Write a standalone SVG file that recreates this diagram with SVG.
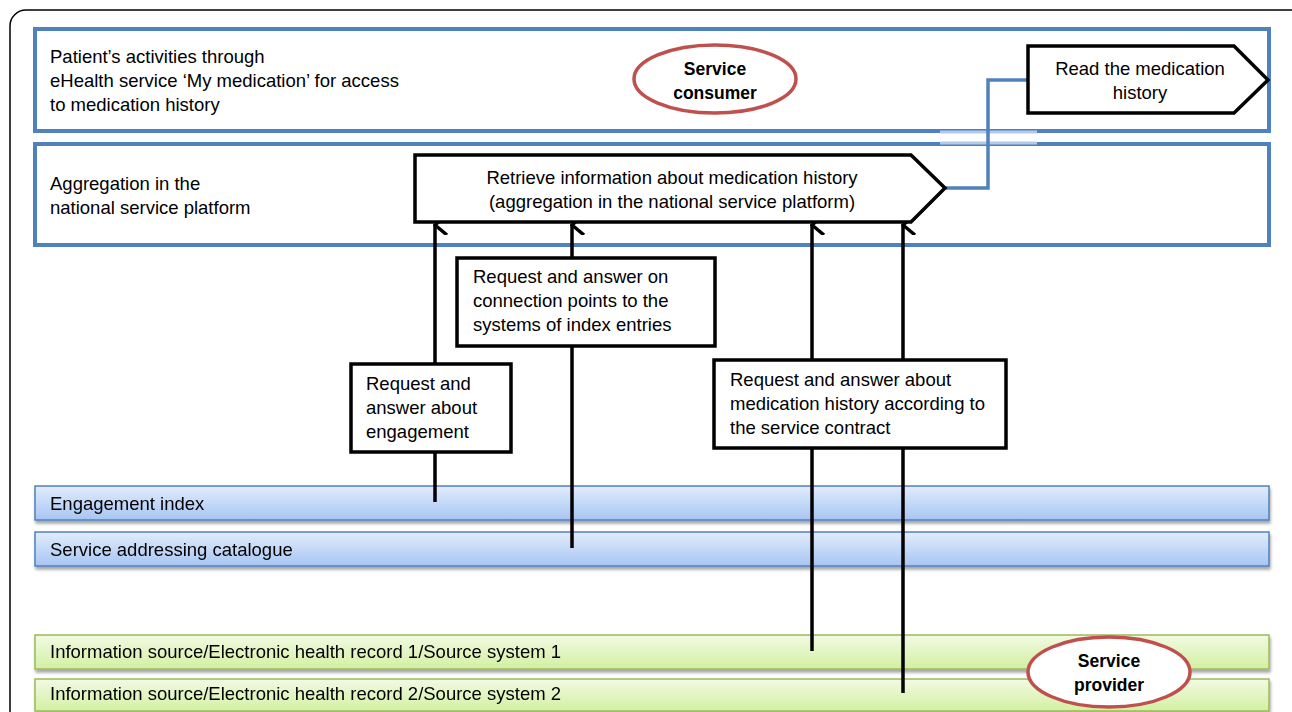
<svg xmlns="http://www.w3.org/2000/svg" width="1292" height="712" viewBox="0 0 1292 712">
<style>
.t{font-family:"Liberation Sans",Arial,sans-serif;font-size:18.5px;fill:#000}
.b{font-family:"Liberation Sans",Arial,sans-serif;font-size:17.5px;font-weight:bold;fill:#000}
.lane{fill:#fff;stroke:#4f81bd;stroke-width:4}
.box{fill:#fff;stroke:#000;stroke-width:3.5;stroke-linejoin:miter}
.bbar{fill:url(#gb);stroke:#4f81bd;stroke-width:1.5}
.gbar{fill:url(#gg);stroke:#9bbb59;stroke-width:1.5}
.ell{fill:#fff;stroke:#c0504d;stroke-width:3.5}
.arr{stroke:#000;stroke-width:3.5;fill:none}
</style>
<defs>
<linearGradient id="gb" x1="0" y1="0" x2="0" y2="1">
<stop offset="0" stop-color="#e2ecfc"/><stop offset="1" stop-color="#a7c5f3"/>
</linearGradient>
<linearGradient id="gg" x1="0" y1="0" x2="0" y2="1">
<stop offset="0" stop-color="#f2fae3"/><stop offset="1" stop-color="#d3f0a2"/>
</linearGradient>
<filter id="sh" x="-5%" y="-30%" width="110%" height="180%">
<feGaussianBlur in="SourceAlpha" stdDeviation="1.5"/>
<feOffset dx="1" dy="3" result="o"/>
<feComponentTransfer><feFuncA type="linear" slope="0.35"/></feComponentTransfer>
<feMerge><feMergeNode/><feMergeNode in="SourceGraphic"/></feMerge>
</filter>
<marker id="ah" viewBox="0 0 20 16" refX="10" refY="2" markerWidth="20" markerHeight="16" markerUnits="userSpaceOnUse" orient="auto-start-reverse">
<path d="M0,14 L10,2 L20,14" fill="none" stroke="#000" stroke-width="3.5"/>
</marker>
</defs>
<rect id="frame" x="10" y="10" width="1300" height="740" rx="16" fill="none" stroke="#000" stroke-width="1.5"/>

<g id="lane-consumer">
<rect class="lane" x="35" y="29" width="1234" height="102"/>
<text class="t" x="50" y="63">Patient’s activities through</text>
<text class="t" x="50" y="87">eHealth service ‘My medication’ for access</text>
<text class="t" x="50" y="111">to medication history</text>
</g>
<g id="lane-platform">
<rect class="lane" x="35" y="144" width="1234" height="101"/>
<text class="t" x="50" y="190">Aggregation in the</text>
<text class="t" x="50" y="214">national service platform</text>
</g>
<g id="lane-gap">
<line x1="940" y1="132" x2="1037" y2="132" stroke="#b3cbea" stroke-width="3"/>
<line x1="940" y1="143" x2="1037" y2="143" stroke="#b3cbea" stroke-width="3"/>
</g>

<g id="engagement-index" filter="url(#sh)">
<rect class="bbar" x="35" y="486" width="1234" height="34"/>
<text class="t" x="50" y="510">Engagement index</text>
</g>
<g id="service-addressing-catalogue" filter="url(#sh)">
<rect class="bbar" x="35" y="532" width="1234" height="34"/>
<text class="t" x="50" y="556">Service addressing catalogue</text>
</g>
<g id="source-system-1" filter="url(#sh)">
<rect class="gbar" x="35" y="635" width="1234" height="34"/>
<text class="t" x="50" y="658">Information source/Electronic health record 1/Source system 1</text>
</g>
<g id="source-system-2" filter="url(#sh)">
<rect class="gbar" x="35" y="679" width="1234" height="32"/>
<text class="t" x="50" y="700">Information source/Electronic health record 2/Source system 2</text>
</g>

<g id="connectors">
<polyline points="945,188 988,188 988,80 1028,80" fill="none" stroke="#4f81bd" stroke-width="3.5"/>
<line class="arr" x1="435" y1="502" x2="435" y2="225" marker-end="url(#ah)"/>
<line class="arr" x1="572" y1="548" x2="572" y2="225" marker-end="url(#ah)"/>
<line class="arr" x1="812" y1="651" x2="812" y2="225" marker-end="url(#ah)"/>
<line class="arr" x1="903" y1="693" x2="903" y2="225" marker-end="url(#ah)"/>
</g>

<g id="service-consumer">
<ellipse class="ell" cx="715" cy="79" rx="81" ry="34"/>
<text class="b" x="715" y="75" text-anchor="middle">Service</text>
<text class="b" x="715" y="99" text-anchor="middle">consumer</text>
</g>
<g id="read-medication-history">
<polygon class="box" points="1028,46 1234,46 1268,80 1234,113 1028,113"/>
<text class="t" x="1140" y="75" text-anchor="middle">Read the medication</text>
<text class="t" x="1140" y="99" text-anchor="middle">history</text>
</g>
<g id="retrieve-information">
<polygon class="box" points="415,155 911,155 945,188 911,222 415,222"/>
<text class="t" x="672" y="184" text-anchor="middle">Retrieve information about medication history</text>
<text class="t" x="672" y="208" text-anchor="middle">(aggregation in the national service platform)</text>
</g>
<g id="req-connection-points">
<rect class="box" x="457" y="258" width="258" height="88"/>
<text class="t" x="473" y="283">Request and answer on</text>
<text class="t" x="473" y="307">connection points to the</text>
<text class="t" x="473" y="331">systems of index entries</text>
</g>
<g id="req-engagement">
<rect class="box" x="351" y="364" width="160" height="88"/>
<text class="t" x="366" y="390">Request and</text>
<text class="t" x="366" y="414">answer about</text>
<text class="t" x="366" y="438">engagement</text>
</g>
<g id="req-medication-history">
<rect class="box" x="714" y="360" width="292" height="88"/>
<text class="t" x="730" y="386">Request and answer about</text>
<text class="t" x="730" y="410">medication history according to</text>
<text class="t" x="730" y="434">the service contract</text>
</g>
<g id="service-provider">
<ellipse class="ell" cx="1109" cy="672" rx="81" ry="35"/>
<text class="b" x="1109" y="667" text-anchor="middle">Service</text>
<text class="b" x="1109" y="691" text-anchor="middle">provider</text>
</g>
</svg>
